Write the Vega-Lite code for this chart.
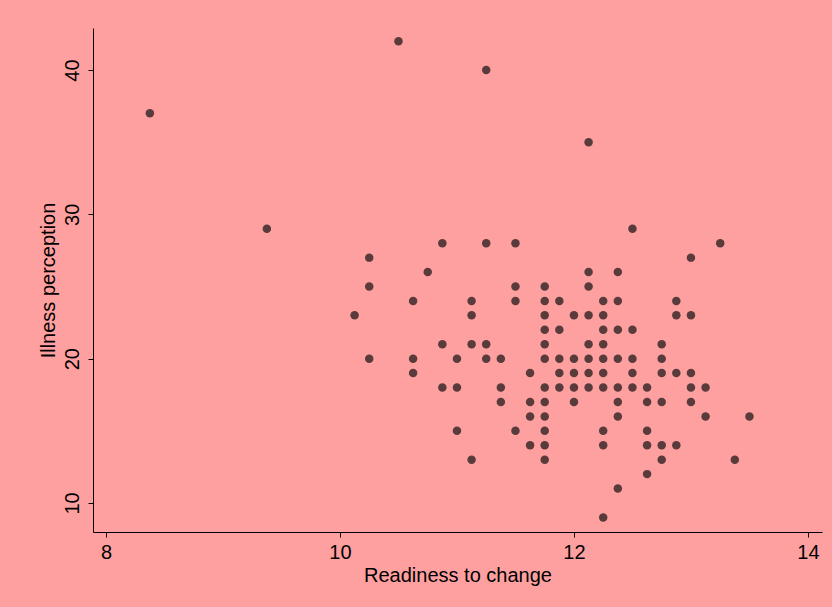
{
  "$schema": "https://vega.github.io/schema/vega-lite/v6.json",
  "width": 729,
  "height": 504,
  "autosize": {"type": "none"},
  "padding": {"left": 93, "top": 28, "right": 10, "bottom": 75},
  "background": "#FFA0A0",
  "config": {"view": {"stroke": null}, "font": "Liberation Sans"},
  "data": {
    "values": [
      {"readiness": 8.375, "illness": 37}, {"readiness": 9.375, "illness": 29}, {"readiness": 10.5, "illness": 42},
      {"readiness": 11.25, "illness": 40}, {"readiness": 12.125, "illness": 35}, {"readiness": 12.5, "illness": 29},
      {"readiness": 13.25, "illness": 28}, {"readiness": 13, "illness": 27},
      {"readiness": 10.875, "illness": 28}, {"readiness": 11.25, "illness": 28}, {"readiness": 11.5, "illness": 28},
      {"readiness": 10.25, "illness": 27}, {"readiness": 10.75, "illness": 26}, {"readiness": 10.25, "illness": 25},
      {"readiness": 11.5, "illness": 25}, {"readiness": 10.625, "illness": 24}, {"readiness": 11.125, "illness": 24},
      {"readiness": 11.5, "illness": 24}, {"readiness": 10.125, "illness": 23}, {"readiness": 11.125, "illness": 23},
      {"readiness": 10.875, "illness": 21}, {"readiness": 11.125, "illness": 21}, {"readiness": 11.25, "illness": 21},
      {"readiness": 10.25, "illness": 20}, {"readiness": 10.625, "illness": 20}, {"readiness": 11, "illness": 20},
      {"readiness": 11.25, "illness": 20}, {"readiness": 11.375, "illness": 20}, {"readiness": 10.625, "illness": 19},
      {"readiness": 11.625, "illness": 19}, {"readiness": 10.875, "illness": 18}, {"readiness": 11, "illness": 18},
      {"readiness": 11.375, "illness": 18}, {"readiness": 11.375, "illness": 17}, {"readiness": 11.625, "illness": 17},
      {"readiness": 11.625, "illness": 16}, {"readiness": 11, "illness": 15}, {"readiness": 11.5, "illness": 15},
      {"readiness": 11.625, "illness": 14}, {"readiness": 11.125, "illness": 13},
      {"readiness": 12.125, "illness": 26}, {"readiness": 12.375, "illness": 26}, {"readiness": 11.75, "illness": 25},
      {"readiness": 12.125, "illness": 25}, {"readiness": 11.75, "illness": 24}, {"readiness": 11.875, "illness": 24},
      {"readiness": 12.25, "illness": 24}, {"readiness": 12.375, "illness": 24}, {"readiness": 11.75, "illness": 23},
      {"readiness": 12, "illness": 23}, {"readiness": 12.125, "illness": 23}, {"readiness": 12.25, "illness": 23},
      {"readiness": 11.75, "illness": 22}, {"readiness": 11.875, "illness": 22}, {"readiness": 12.25, "illness": 22},
      {"readiness": 12.375, "illness": 22}, {"readiness": 12.5, "illness": 22}, {"readiness": 11.75, "illness": 21},
      {"readiness": 12.125, "illness": 21}, {"readiness": 12.25, "illness": 21}, {"readiness": 12.75, "illness": 21},
      {"readiness": 11.75, "illness": 20}, {"readiness": 11.875, "illness": 20}, {"readiness": 12, "illness": 20},
      {"readiness": 12.125, "illness": 20}, {"readiness": 12.25, "illness": 20}, {"readiness": 12.375, "illness": 20},
      {"readiness": 12.5, "illness": 20}, {"readiness": 12.75, "illness": 20}, {"readiness": 11.875, "illness": 19},
      {"readiness": 12, "illness": 19}, {"readiness": 12.125, "illness": 19}, {"readiness": 12.25, "illness": 19},
      {"readiness": 12.5, "illness": 19}, {"readiness": 12.75, "illness": 19}, {"readiness": 11.75, "illness": 18},
      {"readiness": 11.875, "illness": 18}, {"readiness": 12, "illness": 18}, {"readiness": 12.125, "illness": 18},
      {"readiness": 12.25, "illness": 18}, {"readiness": 12.375, "illness": 18}, {"readiness": 12.5, "illness": 18},
      {"readiness": 12.625, "illness": 18},
      {"readiness": 11.75, "illness": 17}, {"readiness": 12, "illness": 17}, {"readiness": 12.375, "illness": 17},
      {"readiness": 12.625, "illness": 17}, {"readiness": 12.75, "illness": 17}, {"readiness": 11.75, "illness": 16},
      {"readiness": 12.375, "illness": 16}, {"readiness": 11.75, "illness": 15}, {"readiness": 12.25, "illness": 15},
      {"readiness": 12.625, "illness": 15}, {"readiness": 11.75, "illness": 14}, {"readiness": 12.25, "illness": 14},
      {"readiness": 12.625, "illness": 14}, {"readiness": 12.75, "illness": 14}, {"readiness": 11.75, "illness": 13},
      {"readiness": 12.75, "illness": 13}, {"readiness": 12.625, "illness": 12}, {"readiness": 12.375, "illness": 11},
      {"readiness": 12.25, "illness": 9},
      {"readiness": 12.875, "illness": 24}, {"readiness": 12.875, "illness": 23}, {"readiness": 13, "illness": 23},
      {"readiness": 12.875, "illness": 19}, {"readiness": 13, "illness": 19}, {"readiness": 13, "illness": 18},
      {"readiness": 13.125, "illness": 18}, {"readiness": 13, "illness": 17}, {"readiness": 13.125, "illness": 16},
      {"readiness": 13.5, "illness": 16}, {"readiness": 12.875, "illness": 14}, {"readiness": 13.375, "illness": 13}
    ]
  },
  "mark": {"type": "point", "filled": true, "size": 72, "color": "#5A3B3B", "opacity": 1},
  "encoding": {
    "x": {
      "field": "readiness",
      "type": "quantitative",
      "scale": {"domain": [7.889, 14.12], "nice": false, "zero": false},
      "axis": {
        "values": [8, 10, 12, 14],
        "title": "Readiness to change",
        "grid": false,
        "domainColor": "black",
        "tickColor": "black",
        "tickSize": 5,
        "labelFontSize": 20,
        "titleFontSize": 20,
        "titleFontWeight": "normal",
        "labelColor": "black",
        "titleColor": "black",
        "labelPadding": 5,
        "titlePadding": 3,
        "labelFlush": false
      }
    },
    "y": {
      "field": "illness",
      "type": "quantitative",
      "scale": {"domain": [7.99, 42.91], "nice": false, "zero": false},
      "axis": {
        "values": [10, 20, 30, 40],
        "title": "Illness perception",
        "grid": false,
        "domainColor": "black",
        "tickColor": "black",
        "tickSize": 5,
        "labelFontSize": 20,
        "titleFontSize": 20,
        "titleFontWeight": "normal",
        "labelColor": "black",
        "titleColor": "black",
        "labelAngle": -90,
        "labelAlign": "center",
        "labelBaseline": "alphabetic",
        "labelPadding": 10,
        "titlePadding": 4,
        "labelFlush": false
      }
    }
  }
}
